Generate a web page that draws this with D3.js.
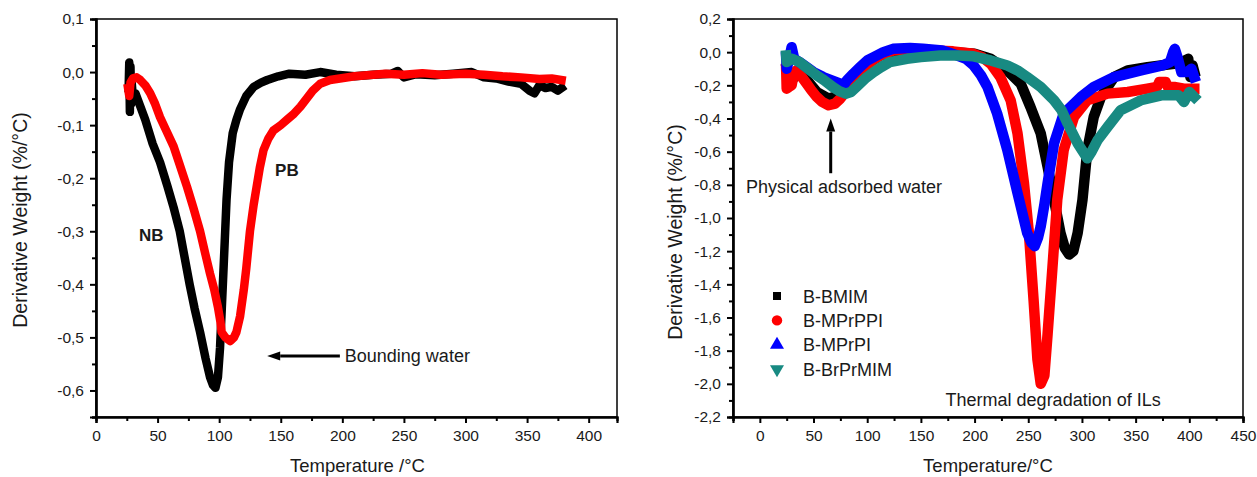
<!DOCTYPE html>
<html>
<head>
<meta charset="utf-8">
<script src="https://cdn.jsdelivr.net/npm/d3@7"></script>
<style>
  body { margin: 0; background: #fff; }
  text { font-family: "Liberation Sans", Arial, sans-serif; fill: #1a1a1a; }
</style>
</head>
<body>
<div id="chart"></div>
<script>
// ---- data (temperature in °C, derivative weight in %/°C) ----

// left panel: NB and PB
const nbPoints = [[26.5,-0.03],[27,0.018],[27.5,-0.075],[28,0.01],[28.5,-0.06],[29,-0.02],[30,-0.05],[32,-0.04],[36,-0.065],[40,-0.09],[46,-0.135],[52,-0.17],[58,-0.215],[63,-0.255],[68,-0.30],[72,-0.35],[76,-0.40],[80,-0.445],[84.5,-0.49],[89,-0.54],[92.6,-0.575],[95,-0.59],[97,-0.595],[99,-0.575],[100.7,-0.52],[103,-0.40],[106,-0.24],[108,-0.17],[111,-0.115],[114,-0.09],[117,-0.07],[122,-0.045],[128,-0.028],[134,-0.02],[139,-0.015],[148,-0.008],[157,-0.003],[170,-0.005],[182,0.0],[195,-0.005],[210,-0.008],[225,-0.005],[240,-0.003],[245,0.002],[250,-0.01],[260,-0.004],[275,-0.006],[290,-0.003],[305,0.0],[315,-0.01],[325,-0.012],[335,-0.018],[345,-0.022],[352,-0.035],[356,-0.04],[360,-0.025],[365,-0.03],[370,-0.028],[375,-0.035],[378,-0.03]]
const pbPoints = [[26,-0.03],[27,-0.045],[28,-0.02],[30,-0.012],[33,-0.01],[36,-0.015],[40,-0.025],[44,-0.04],[48,-0.06],[52,-0.085],[57,-0.11],[63,-0.14],[68,-0.175],[74,-0.217],[79,-0.255],[84.5,-0.30],[89,-0.345],[92.6,-0.38],[96,-0.41],[99,-0.443],[101,-0.47],[102,-0.49],[105,-0.5],[109,-0.507],[112,-0.5],[114,-0.49],[117,-0.46],[120,-0.41],[122,-0.37],[125,-0.30],[128,-0.25],[130.5,-0.215],[133,-0.18],[136,-0.147],[140,-0.125],[144,-0.11],[150,-0.1],[155,-0.09],[160,-0.08],[166,-0.065],[171,-0.05],[176,-0.035],[182,-0.022],[190,-0.015],[198,-0.012],[210,-0.008],[220,-0.006],[235,-0.003],[250,-0.005],[265,-0.002],[280,-0.005],[300,-0.003],[315,-0.005],[330,-0.008],[345,-0.01],[360,-0.013],[370,-0.012],[378,-0.015]]

// right panel: four ionic liquid samples
const bmimPoints = [[25,-0.1],[27,-0.18],[30,-0.17],[35,-0.12],[44,-0.17],[53,-0.24],[64,-0.28],[75,-0.26],[87,-0.16],[100,-0.07],[112,-0.02],[124,0.0],[150,0.01],[180,0.0],[200,-0.01],[215,-0.04],[230.5,-0.11],[243,-0.19],[252,-0.33],[261.6,-0.49],[268,-0.69],[274,-0.89],[280,-1.09],[284,-1.18],[288,-1.22],[292,-1.2],[296,-1.09],[300.5,-0.89],[305,-0.59],[311,-0.39],[317.7,-0.27],[330,-0.15],[342.6,-0.11],[361,-0.09],[386,-0.07],[396,-0.05],[399,-0.04],[401,-0.15],[403,-0.08],[404.6,-0.12]]
const mprppiPoints = [[24.5,-0.1],[25,-0.22],[27,-0.21],[29.6,-0.2],[31,-0.15],[34,-0.11],[38,-0.14],[43.6,-0.19],[48,-0.23],[53,-0.27],[58,-0.3],[64,-0.32],[70,-0.31],[75,-0.28],[81,-0.23],[87,-0.17],[93,-0.12],[100,-0.08],[106,-0.045],[112,-0.02],[124,0.01],[140,0.015],[160,0.01],[180,0.005],[199,-0.01],[207,-0.03],[215,-0.07],[224,-0.15],[233.6,-0.29],[240,-0.49],[246,-0.79],[250.6,-1.09],[255,-1.5],[258.5,-1.85],[261.6,-2.0],[265,-1.95],[268,-1.7],[272.5,-1.3],[277,-0.89],[283,-0.59],[292.6,-0.39],[305,-0.29],[324,-0.25],[342.6,-0.24],[361,-0.22],[370,-0.21],[372,-0.18],[378,-0.18],[380,-0.21],[386,-0.21],[395,-0.22],[404.6,-0.22]]
const mprpiPoints = [[24.5,-0.03],[25,-0.1],[27,-0.05],[29.6,0.03],[32,-0.04],[37,-0.06],[43.6,-0.09],[50,-0.12],[59,-0.15],[67,-0.17],[75,-0.19],[78,-0.2],[81,-0.17],[87,-0.13],[93.4,-0.09],[100,-0.05],[106,-0.03],[115,0.0],[124,0.02],[140,0.025],[152,0.02],[170,0.01],[184,-0.02],[192,-0.04],[199,-0.08],[206,-0.14],[212,-0.21],[221,-0.37],[230.5,-0.59],[240,-0.85],[249,-1.09],[253,-1.15],[256,-1.17],[259,-1.12],[261.6,-1.05],[265,-0.92],[268,-0.79],[274,-0.55],[283,-0.37],[299,-0.27],[311,-0.21],[330,-0.15],[355,-0.11],[375,-0.08],[382,-0.06],[385,0.0],[386.5,0.02],[389,-0.03],[392.6,-0.12],[398,-0.12],[402,-0.1],[404.6,-0.15]]
const brprmimPoints = [[24.5,-0.02],[25,-0.06],[30,-0.04],[37,-0.06],[45,-0.1],[53,-0.14],[60,-0.17],[68,-0.21],[74,-0.235],[80,-0.25],[85,-0.24],[90,-0.21],[98,-0.16],[106,-0.12],[113,-0.09],[121,-0.06],[137,-0.04],[150,-0.03],[168,-0.02],[185,-0.02],[199,-0.025],[215,-0.05],[230.5,-0.08],[240,-0.11],[249,-0.15],[261.6,-0.21],[274,-0.29],[281,-0.35],[286.6,-0.43],[296,-0.55],[302,-0.61],[305,-0.64],[309,-0.6],[314.6,-0.53],[324,-0.45],[336,-0.35],[355,-0.29],[374,-0.26],[390,-0.26],[395,-0.3],[400,-0.24],[404.6,-0.27]]

const rightNames = ["B-BMIM", "B-MPrPPI", "B-MPrPI", "B-BrPrMIM"]
const rightColors = ["#000000", "#ff0000", "#0000ff", "#188a82"]
const rightSymbols = [d3.symbolSquare, d3.symbolCircle, d3.symbolTriangle, d3.symbolTriangle]

// tick values
const leftXTicks = [0, 50, 100, 150, 200, 250, 300, 350, 400]
const leftXMinor = [25, 75, 125, 175, 225, 275, 325, 375]
const leftYTicks = [0.1, 0.0, -0.1, -0.2, -0.3, -0.4, -0.5, -0.6]
const leftYMinor = [0.05, -0.05, -0.15, -0.25, -0.35, -0.45, -0.55, -0.65]
const rightXTicks = [0, 50, 100, 150, 200, 250, 300, 350, 400, 450]
const rightXMinor = [-25, 25, 75, 125, 175, 225, 275, 325, 375, 425]
const rightYTicks = [0.2, 0.0, -0.2, -0.4, -0.6, -0.8, -1.0, -1.2, -1.4, -1.6, -1.8, -2.0, -2.2]
const rightYMinor = [0.1, -0.1, -0.3, -0.5, -0.7, -0.9, -1.1, -1.3, -1.5, -1.7, -1.9, -2.1]

// ---- drawing ----
const width = 1257
const height = 477
const svg = d3.select('#chart').append('svg').attr('width', width).attr('height', height)

// comma decimals with a plain hyphen, like the original
const commaFmt = v => {
  const r = Math.round(v * 10) / 10
  return (r < 0 ? '-' : '') + Math.abs(r).toFixed(1).replace('.', ',')
}

function drawFrame(x, y, xTicks, xMinor, yTicks, yMinor) {
  const g = svg.append('g')
  const [x0, x1] = x.range()
  const [y1, y0] = y.range()
  g.append('rect')
    .attr('x', x0).attr('y', y0).attr('width', x1 - x0).attr('height', y1 - y0)
    .attr('fill', 'none').attr('stroke', '#000').attr('stroke-width', 1.5)

  const xAxis = g.append('g').attr('transform', 'translate(0,' + y1 + ')')
    .call(d3.axisBottom(x).tickValues(xTicks).tickSize(6).tickPadding(7).tickFormat(d3.format('d')))
  const xMin = g.append('g').attr('transform', 'translate(0,' + y1 + ')')
    .call(d3.axisBottom(x).tickValues(xMinor).tickSize(4).tickFormat(''))
  const yAxis = g.append('g').attr('transform', 'translate(' + x0 + ',0)')
    .call(d3.axisLeft(y).tickValues(yTicks).tickSize(6).tickPadding(6).tickFormat(commaFmt))
  const yMin = g.append('g').attr('transform', 'translate(' + x0 + ',0)')
    .call(d3.axisLeft(y).tickValues(yMinor).tickSize(4).tickFormat(''))

  ;[xAxis, xMin, yAxis, yMin].forEach(a => {
    a.select('.domain').attr('stroke', '#000').attr('stroke-width', 2.2)
    a.selectAll('.tick line').attr('stroke', '#000').attr('stroke-width', 2)
    a.selectAll('.tick text').attr('font-size', 15.5).attr('fill', '#333')
      .attr('font-family', '"Liberation Sans", Arial, sans-serif')
  })
}

function drawCurve(pts, x, y, color, w) {
  svg.append('path')
    .datum(pts)
    .attr('d', d3.line().x(d => x(d[0])).y(d => y(d[1])))
    .attr('fill', 'none')
    .attr('stroke', color)
    .attr('stroke-width', w)
    .attr('stroke-linejoin', 'round')
    .attr('stroke-linecap', 'square')
}

function arrow(xa, ya, xb, yb) {
  // line from (xa,ya) to the head at (xb,yb)
  const ang = Math.atan2(yb - ya, xb - xa)
  const L = 13, W = 4.5
  const bx = xb - L * Math.cos(ang), by = yb - L * Math.sin(ang)
  svg.append('line').attr('x1', xa).attr('y1', ya).attr('x2', bx).attr('y2', by)
    .attr('stroke', '#000').attr('stroke-width', 3)
  svg.append('path')
    .attr('d', 'M' + xb + ',' + yb +
      'L' + (bx + W * Math.sin(ang)) + ',' + (by - W * Math.cos(ang)) +
      'L' + (bx - W * Math.sin(ang)) + ',' + (by + W * Math.cos(ang)) + 'Z')
    .attr('fill', '#000')
}

// ---- left panel ----
const xL = d3.scaleLinear().domain([0, 423]).range([96, 617])
const yL = d3.scaleLinear().domain([-0.65, 0.1]).range([417, 19])
drawFrame(xL, yL, leftXTicks, leftXMinor, leftYTicks, leftYMinor)
drawCurve(nbPoints, xL, yL, '#000', 8.5)
drawCurve(pbPoints, xL, yL, '#ff0000', 8.5)

svg.append('text').attr('x', xL(35)).attr('y', yL(-0.318))
  .attr('font-size', 17).attr('font-weight', 'bold').text('NB')
svg.append('text').attr('x', xL(145.4)).attr('y', yL(-0.196))
  .attr('font-size', 17).attr('font-weight', 'bold').text('PB')
arrow(xL(198), yL(-0.535), xL(139), yL(-0.535))
svg.append('text').attr('x', xL(202)).attr('y', yL(-0.546))
  .attr('font-size', 18).text('Bounding water')

svg.append('text').attr('x', (xL.range()[0] + xL.range()[1]) / 2 + 1).attr('y', 472)
  .attr('text-anchor', 'middle').attr('font-size', 18.5).text('Temperature /°C')
svg.append('text').attr('transform', 'translate(27,220) rotate(-90)')
  .attr('text-anchor', 'middle').attr('font-size', 19.5).text('Derivative Weight (%/°C)')

// ---- right panel ----
const xR = d3.scaleLinear().domain([-25, 450]).range([733, 1243])
const yR = d3.scaleLinear().domain([-2.2, 0.2]).range([417, 19])
drawFrame(xR, yR, rightXTicks, rightXMinor, rightYTicks, rightYMinor)
const rightSeries = [bmimPoints, mprppiPoints, mprpiPoints, brprmimPoints]
rightSeries.forEach((pts, i) => drawCurve(pts, xR, yR, rightColors[i], 10.5))

arrow(xR(66), yR(-0.73), xR(66), yR(-0.40))
svg.append('text').attr('x', xR(-13)).attr('y', yR(-0.85))
  .attr('font-size', 18).text('Physical adsorbed water')
svg.append('text').attr('x', xR(173)).attr('y', yR(-2.135))
  .attr('font-size', 18).text('Thermal degradation of ILs')

// legend
const legend = svg.append('g').attr('transform', 'translate(777,296)')
rightNames.forEach((name, i) => {
  const row = legend.append('g').attr('transform', 'translate(0,' + (i * 24.4) + ')')
  row.append('path')
    .attr('d', d3.symbol().type(rightSymbols[i]).size(i === 0 ? 64 : 85)())
    .attr('transform', i === 3 ? 'rotate(180)' : null)
    .attr('fill', rightColors[i])
  row.append('text').attr('x', 26).attr('y', 6.5).attr('font-size', 18).text(name)
})

svg.append('text').attr('x', (xR.range()[0] + xR.range()[1]) / 2).attr('y', 472)
  .attr('text-anchor', 'middle').attr('font-size', 18.5).text('Temperature/°C')
svg.append('text').attr('transform', 'translate(682,232) rotate(-90)')
  .attr('text-anchor', 'middle').attr('font-size', 19.5).text('Derivative Weight (%/°C)')
</script>
</body>
</html>
